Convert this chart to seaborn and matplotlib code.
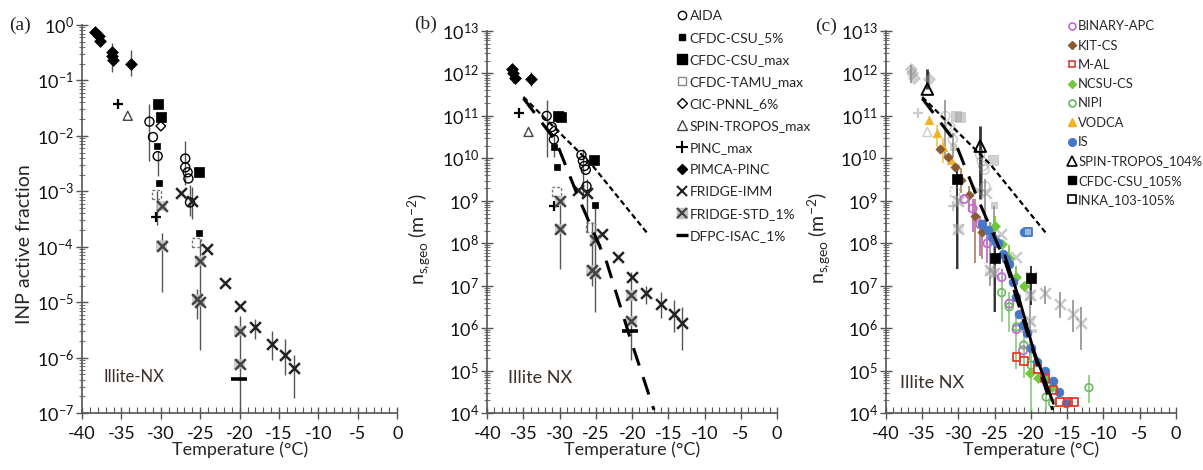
import numpy as np
import seaborn as sns
import matplotlib.pyplot as plt
from matplotlib.lines import Line2D
from matplotlib.ticker import LogLocator, MultipleLocator, LogFormatterSciNotation, NullFormatter

nan = np.nan

# ---------------- panel (a): INP active fraction ----------------
a_aida_t = [-31.45, -31.0, -30.4, -26.9, -26.9, -26.6, -26.5, -26.3]
a_aida_v = [0.018, 0.0095, 0.0043, 0.0039, 0.0027, 0.0022, 0.0017, 0.00063]
a_csu5_t = [-30.5, -30.2, -25.1]
a_csu5_v = [0.0066, 0.0014, 1.8e-4]
a_csumax_t = [-30.4, -30.0, -25.2]
a_csumax_v = [0.037, 0.022, 0.0022]
a_tamu_t = [-30.5, -25.5]
a_tamu_v = [8.9e-4, 1.2e-4]
a_cic_t = [-30.0]
a_cic_v = [0.015]
a_spin_t = [-34.2]
a_spin_v = [0.023]
a_pinc_t = [-35.5, -30.6]
a_pinc_v = [0.037, 3.5e-4]
a_pimca_t = [-38.3, -37.9, -37.7, -36.2, -36.2, -36.1, -33.8]
a_pimca_v = [0.73, 0.62, 0.52, 0.33, 0.27, 0.23, 0.20]
a_fimm_t = [-27.4, -26.1, -24.1, -21.9, -20.0, -18.0, -15.9, -14.2, -13.1]
a_fimm_v = [9.5e-4, 6.7e-4, 9.1e-5, 2.2e-5, 8.5e-6, 3.5e-6, 1.8e-6, 1.1e-6, 6.6e-7]
a_fstd_t = [-29.9, -29.9, -25.0, -25.4, -25.0, -20.0, -20.0]
a_fstd_v = [5.5e-4, 1.05e-4, 5.6e-5, 1.15e-5, 1.0e-5, 3.0e-6, 7.6e-7]
a_dfpc_t = [-20.1]
a_dfpc_v = [4.2e-7]

a_bar_t = [-36.2, -33.8, -31.45, -30.4, -26.9, -26.3, -29.9, -25.0, -25.4, -20.0, -18.0, -15.9, -14.2, -13.1, -26.1, -30.5]
a_bar_lo = [0.14, 0.12, 0.0035, 0.0019, 0.0013, 3.6e-4, 1.5e-5, 1.4e-6, 5e-6, 1e-7, 2.2e-6, 9e-7, 4.8e-7, 1.9e-7, 3.2e-4, 2.5e-4]
a_bar_hi = [0.47, 0.36, 0.038, 0.0054, 0.0081, 0.0013, 1.8e-4, 1.4e-4, 1.7e-5, 5.7e-6, 5e-6, 3e-6, 2.2e-6, 1.1e-6, 1.2e-3, 1e-3]

# ---------------- panel (b): n_s,geo ----------------
b_aida_t = [-31.8, -31.1, -30.8, -27.0, -26.8, -26.6, -26.4, -26.3]
b_aida_v = [1e11, 5.5e10, 2.8e10, 1.2e10, 8.7e9, 6.6e9, 5.4e9, 2.2e9]
b_csu5_t = [-30.8, -30.4, -25.1]
b_csu5_v = [1.9e10, 6.2e9, 7.9e8]
b_csumax_t = [-30.3, -29.8, -25.3]
b_csumax_v = [1e11, 9.3e10, 9.1e9]
b_tamu_t = [-30.5, -25.8]
b_tamu_v = [1.7e9, 2.4e8]
b_cic_t = [-30.8]
b_cic_v = [4.5e10]
b_spin_t = [-34.3]
b_spin_v = [4.2e10]
b_pinc_t = [-35.6, -30.8]
b_pinc_v = [1.2e11, 7.4e8]
b_pimca_t = [-36.6, -36.4, -36.2, -34.0]
b_pimca_v = [1.25e12, 1.0e12, 8e11, 7.4e11]
b_fimm_t = [-27.5, -26.2, -24.2, -22.0, -20.0, -18.1, -16.0, -14.2, -13.1]
b_fimm_v = [1.8e9, 1.5e9, 1.7e8, 4.7e7, 1.6e7, 6.9e6, 3.8e6, 2.2e6, 1.3e6]
b_fstd_t = [-30.0, -30.0, -25.1, -25.6, -25.1, -20.1, -20.1]
b_fstd_v = [1e9, 2.2e8, 1.2e8, 2.3e7, 2e7, 5.9e6, 1.5e6]
b_dfpc_t = [-20.3]
b_dfpc_v = [8.5e5]

b_bar_t = [-36.5, -34.0, -31.8, -30.8, -26.8, -26.3, -30.0, -25.1, -25.6, -20.1, -18.1, -16.0, -14.2, -13.1]
b_bar_lo = [6e11, 5e11, 1.1e10, 1.1e10, 1.3e9, 1.8e8, 2.5e7, 2.4e6, 1e7, 1.8e5, 3.8e6, 1.7e6, 8.1e5, 3e5]
b_bar_hi = [1.6e12, 1.1e12, 2.4e11, 4e10, 1.7e10, 3.2e9, 1.1e9, 7.6e8, 3.1e8, 2.1e7, 1e7, 7e6, 4.6e6, 3.2e6]

fit_long_t = [-35.0, -30.5, -27.5, -23.5, -20.3, -17.0]
fit_long_v = [2.6e11, 2.5e10, 1.3e9, 3.5e7, 6e5, 1.2e4]
fit_short_t = [-35.0, -25.6, -18.0]
fit_short_v = [2.8e11, 7.2e9, 1.8e8]

# ---------------- panel (c): additional instruments ----------------
c_binary_t = [-29.2, -28.05, -27.0, -26.0, -24.05, -23.0, -22.0, -21.1]
c_binary_v = [1.1e9, 6.6e8, 2.8e8, 1e8, 1.6e7, 3.8e6, 9.5e5, 3e5]
c_binary_lo = [nan, 1.8e8, 5e7, 3.5e7, 8e6, nan, nan, nan]
c_binary_hi = [nan, 1.1e9, 4.5e8, 1.8e8, 2.5e7, nan, nan, nan]
c_kit_t = [-32.6, -31.5, -30.5, -29.7, -28.6, -27.7, -26.8]
c_kit_v = [1.7e10, 1.05e10, 6.3e9, 3.1e9, 1.4e9, 4.5e8, 1.8e8]
c_kit_lo = [nan, nan, nan, 1.5e9, 5.4e8, 3.5e7, 4.3e7]
c_kit_hi = [nan, nan, nan, 6e9, 2.2e9, 1.1e9, 3e8]
c_mal_t = [-22.0, -21.0, -19.1, -18.1, -16.9, -16.0, -14.85, -14.1]
c_mal_v = [2.1e5, 1.7e5, 1.1e5, 6.6e4, 3.5e4, 1.8e4, 1.8e4, 1.8e4]
c_ncsu_t = [-25.0, -24.05, -23.0, -22.0, -21.0, -20.1, -19.0, -17.9, -17.05]
c_ncsu_v = [2.5e8, 9.6e7, 4.5e7, 1.6e7, 9.8e6, 8.7e4, 6.9e4, 6e4, 4.2e4]
c_ncsu_lo = [1.3e8, nan, 2.5e7, 8.5e6, nan, nan, nan, nan, nan]
c_ncsu_hi = [4.5e8, nan, 9e7, 3e7, nan, nan, nan, nan, nan]
c_nipi_t = [-24.05, -23.0, -22.0, -21.0, -20.0, -17.9, -17.0, -12.0]
c_nipi_v = [6.9e6, 3.2e6, 1.07e6, 4e5, 1.35e5, 2.4e4, 1.7e4, 4e4]
c_nipi_lo = [1.4e6, 8e5, 1.1e5, 6.6e4, 1.1e4, 1.1e4, nan, 1.7e4]
c_nipi_hi = [2.1e7, 7e6, 2.4e6, 9.8e5, 3.3e5, 4.6e4, nan, 7.9e4]
c_vodca_t = [-34.0, -33.0, -32.1, -31.1]
c_vodca_v = [8.1e10, 3.9e10, 1.9e10, 9.1e9]
c_vodca_lo = [nan, 1.9e10, 8e9, nan]
c_vodca_hi = [nan, 6e10, 3e10, nan]
c_is_t = [-26.7, -25.9, -25.4, -24.8, -24.5, -23.9, -23.45, -23.0, -22.5, -22.1, -21.65,
          -21.15, -20.5, -20.0, -19.1, -18.1, -17.0, -16.1, -15.1, -21.0]
c_is_v = [2.8e8, 2.1e8, 1.4e8, 1.1e8, 1e8, 5.6e7, 4.3e7, 3.3e7, 1.2e7, 5.4e6, 2.2e6,
          1.2e6, 7.9e5, 3.5e5, 1.6e5, 9.8e4, 5.8e4, 3.2e4, 1.7e4, 1.8e8]
c_spin_t = [-34.3, -27.0]
c_spin_v = [4.3e11, 1.95e10]
c_spin_lo = [4.3e11, 1.1e9]
c_spin_hi = [1.3e12, 5.8e10]
c_csu_t = [-30.2, -25.0, -20.0]
c_csu_v = [3.3e9, 4.5e7, 1.5e7]
c_csu_lo = [2.5e7, 2.4e6, 3.5e6]
c_csu_hi = [6.6e9, 1.8e8, 3e7]
c_inka_t = [-20.4]
c_inka_v = [1.8e8]
c_fit_t = [-23.6, -21.5, -19.7, -16.9]
c_fit_v = [5.1e7, 4.2e6, 3.3e5, 1.7e4]

temp_ticks = [-40, -35, -30, -25, -20, -15, -10, -5, 0]

# ---------------- styles ----------------
# name -> (marker, size, face, edge, linewidth, linestyle)
STY = {
    'AIDA': ('o', 42, 'none', 'k', 1.0, 'solid'),
    'CFDC-CSU_5%': ('s', 22, 'k', 'k', 0.5, 'solid'),
    'CFDC-CSU_max': ('s', 60, 'k', 'k', 0.5, 'solid'),
    'CFDC-TAMU_max': ('s', 42, 'none', '#777777', 1.0, (0, (2, 1.5))),
    'CIC-PNNL_6%': ('D', 24, 'none', 'k', 1.0, 'solid'),
    'SPIN-TROPOS_max': ('^', 42, 'none', '#444444', 1.0, 'solid'),
    'PINC_max': ('+', 60, None, 'k', 1.6, 'solid'),
    'PIMCA-PINC': ('D', 36, 'k', 'k', 0.5, 'solid'),
    'FRIDGE-IMM': ('x', 60, None, '#222222', 1.8, 'solid'),
    'FRIDGE-STD_1%': ('x', 60, None, '#444444', 1.8, 'solid'),
    'DFPC-ISAC_1%': ('_', 120, None, 'k', 2.6, 'solid'),
}


def dots(ax, t, v, name, gray=False, z=4):
    m, s, face, edge, lw, ls = STY[name]
    alpha = 0.45 if gray else 1.0
    if gray:
        edge = '#8a8a8a'
        face = face if face in (None, 'none') else '#9a9a9a'
    if name == 'FRIDGE-STD_1%':
        sns.scatterplot(x=t, y=v, ax=ax, marker='s', s=55, color='#c4c4c4',
                        edgecolor='none', alpha=0.8 * alpha, zorder=z, legend=False)
    if face is None:
        sns.scatterplot(x=t, y=v, ax=ax, marker=m, s=s, color=edge, linewidth=lw,
                        alpha=alpha, zorder=z, legend=False)
    else:
        sns.scatterplot(x=t, y=v, ax=ax, marker=m, s=s, color=edge, facecolors=face,
                        edgecolors=edge, linewidth=lw, linestyle=ls, alpha=alpha,
                        zorder=z, legend=False)


def bars(ax, t, lo, hi, color='#555555', lw=1.0, z=2, alpha=1.0):
    t, lo, hi = np.asarray(t), np.asarray(lo, float), np.asarray(hi, float)
    ok = ~np.isnan(lo)
    ax.vlines(t[ok], lo[ok], hi[ok], colors=color, lw=lw, zorder=z, alpha=alpha)


def cdots(ax, t, v, marker, s, face, edge, lw=1.0, z=5):
    sns.scatterplot(x=t, y=v, ax=ax, marker=marker, s=s, color=edge, facecolors=face,
                    edgecolors=edge, linewidth=lw, zorder=z, legend=False)


def style_axes(ax, ylo, yhi, ylabel, label_xy):
    ax.set_yscale('log')
    ax.set_xlim(-40, 0)
    ax.set_ylim(ylo, yhi)
    ax.set_xticks(temp_ticks)
    ax.set_xticklabels([str(t) for t in temp_ticks])
    ax.xaxis.set_minor_locator(MultipleLocator(1))
    ax.yaxis.set_major_locator(LogLocator(base=10, numticks=20))
    ax.yaxis.set_major_formatter(LogFormatterSciNotation())
    ax.yaxis.set_minor_locator(LogLocator(base=10, subs=np.arange(2, 10), numticks=100))
    ax.yaxis.set_minor_formatter(NullFormatter())
    ax.tick_params(axis='both', which='major', direction='inout', length=8, width=1,
                   color='#555555', labelsize=13, labelcolor='#111111')
    ax.tick_params(axis='y', which='minor', direction='inout', length=4, width=0.8, color='#777777')
    ax.tick_params(axis='x', which='minor', direction='in', length=4, width=0.8, color='#555555')
    ax.tick_params(axis='x', which='major', pad=5)
    ax.tick_params(axis='y', which='major', pad=2)
    for sp in ('left', 'bottom'):
        ax.spines[sp].set_color('#555555')
        ax.spines[sp].set_linewidth(1.2)
    sns.despine(ax=ax)
    ax.set_xlabel('Temperature (°C)', fontsize=13, labelpad=0)
    ax.set_ylabel(ylabel, fontsize=14)
    ax.yaxis.set_label_coords(*label_xy)


sns.set_style('ticks')
plt.rcParams['font.family'] = ['Lato', 'DejaVu Sans']
plt.rcParams['axes.unicode_minus'] = False

fig = plt.figure(figsize=(12.03, 4.70), dpi=100)
ax_a = fig.add_axes([0.0682, 0.121, 0.262, 0.826])
ax_b = fig.add_axes([0.405, 0.121, 0.241, 0.813])
ax_c = fig.add_axes([0.7365, 0.121, 0.241, 0.813])

# ---- (a)
style_axes(ax_a, 1e-7, 1.0, 'INP active fraction', (-0.156, 0.436))
bars(ax_a, a_bar_t, a_bar_lo, a_bar_hi)
dots(ax_a, a_pimca_t, a_pimca_v, 'PIMCA-PINC')
dots(ax_a, a_pinc_t, a_pinc_v, 'PINC_max')
dots(ax_a, a_spin_t, a_spin_v, 'SPIN-TROPOS_max')
dots(ax_a, a_aida_t, a_aida_v, 'AIDA')
dots(ax_a, a_csumax_t, a_csumax_v, 'CFDC-CSU_max')
dots(ax_a, a_csu5_t, a_csu5_v, 'CFDC-CSU_5%')
dots(ax_a, a_tamu_t, a_tamu_v, 'CFDC-TAMU_max')
dots(ax_a, a_cic_t, a_cic_v, 'CIC-PNNL_6%')
dots(ax_a, a_fimm_t, a_fimm_v, 'FRIDGE-IMM')
dots(ax_a, a_fstd_t, a_fstd_v, 'FRIDGE-STD_1%')
dots(ax_a, a_dfpc_t, a_dfpc_v, 'DFPC-ISAC_1%')
ax_a.text(-37.3, 10 ** -6.34, 'Illite-NX', fontsize=12, color='#3b2f2a', va='center')

# ---- (b)
nsg = r'n$_{\mathdefault{s{,}geo}}$ (m$^{\mathdefault{-2}}$)'
style_axes(ax_b, 1e4, 1e13, nsg, (-0.186, 0.456))
b_series = [(b_aida_t, b_aida_v, 'AIDA'), (b_csu5_t, b_csu5_v, 'CFDC-CSU_5%'),
            (b_csumax_t, b_csumax_v, 'CFDC-CSU_max'), (b_tamu_t, b_tamu_v, 'CFDC-TAMU_max'),
            (b_cic_t, b_cic_v, 'CIC-PNNL_6%'), (b_spin_t, b_spin_v, 'SPIN-TROPOS_max'),
            (b_pinc_t, b_pinc_v, 'PINC_max'), (b_pimca_t, b_pimca_v, 'PIMCA-PINC'),
            (b_fimm_t, b_fimm_v, 'FRIDGE-IMM'), (b_fstd_t, b_fstd_v, 'FRIDGE-STD_1%'),
            (b_dfpc_t, b_dfpc_v, 'DFPC-ISAC_1%')]
bars(ax_b, b_bar_t, b_bar_lo, b_bar_hi)
for t, v, name in b_series:
    dots(ax_b, t, v, name)
for ax in (ax_b, ax_c):
    sns.lineplot(x=fit_long_t, y=fit_long_v, ax=ax, color='k', lw=2.2,
                 linestyle=(0, (6, 4)), zorder=6)
    sns.lineplot(x=fit_short_t, y=fit_short_v, ax=ax, color='k', lw=1.6,
                 linestyle=(0, (2.5, 1.5)), zorder=6)
ax_b.text(-37.2, 10 ** 4.82, 'Illite NX', fontsize=13, color='#3b2f2a', va='center')

# ---- (c)
style_axes(ax_c, 1e4, 1e13, nsg, (-0.183, 0.458))
bars(ax_c, b_bar_t, b_bar_lo, b_bar_hi, color='#777777', lw=1.4, alpha=0.7)
for t, v, name in b_series:
    dots(ax_c, t, v, name, gray=True, z=3)
col_binary, col_kit, col_mal = '#c368d6', '#8a5a2e', '#e33a2e'
col_ncsu, col_nipi, col_vodca, col_is = '#72c83a', '#6ab860', '#f0b222', '#4577c6'
bars(ax_c, c_binary_t, c_binary_lo, c_binary_hi, color=col_binary, lw=1.3)
bars(ax_c, c_kit_t, c_kit_lo, c_kit_hi, color='#b08a66', lw=1.3)
bars(ax_c, c_ncsu_t, c_ncsu_lo, c_ncsu_hi, color=col_ncsu, lw=1.3)
bars(ax_c, c_nipi_t, c_nipi_lo, c_nipi_hi, color='#8fcf85', lw=1.3)
bars(ax_c, c_vodca_t, c_vodca_lo, c_vodca_hi, color='#f5c85a', lw=1.3)
bars(ax_c, c_spin_t, c_spin_lo, c_spin_hi, color='#333333', lw=2.0)
bars(ax_c, c_csu_t, c_csu_lo, c_csu_hi, color='#333333', lw=1.4)
sns.lineplot(x=c_fit_t, y=c_fit_v, ax=ax_c, color='k', lw=2.0, zorder=6)
cdots(ax_c, c_vodca_t, c_vodca_v, '^', 38, col_vodca, col_vodca, 0.5)
cdots(ax_c, c_kit_t, c_kit_v, 'D', 22, col_kit, col_kit, 0.5)
cdots(ax_c, c_binary_t, c_binary_v, 'o', 34, 'none', col_binary, 1.3)
cdots(ax_c, c_nipi_t, c_nipi_v, 'o', 30, 'none', col_nipi, 1.2)
cdots(ax_c, c_ncsu_t, c_ncsu_v, 'D', 26, col_ncsu, col_ncsu, 0.5)
cdots(ax_c, c_is_t, c_is_v, 'o', 40, col_is, col_is, 0.5)
cdots(ax_c, c_mal_t, c_mal_v, 's', 32, 'none', col_mal, 1.3)
cdots(ax_c, c_inka_t, c_inka_v, 's', 40, '#9db8e0', col_is, 1.3)
cdots(ax_c, c_spin_t, c_spin_v, '^', 70, 'none', 'k', 1.4, z=7)
cdots(ax_c, c_csu_t, c_csu_v, 's', 45, 'k', 'k', 0.5, z=7)
ax_c.text(-38.1, 10 ** 4.7, 'Illite NX', fontsize=13, color='#3b2f2a', va='center')

# ---- panel tags
tag_font = ['Liberation Serif', 'DejaVu Serif']
fig.text(0.0166, 0.947, '(a)', fontsize=14, va='center', ha='center', family=tag_font)
fig.text(0.354, 0.949, '(b)', fontsize=14, va='center', ha='center', family=tag_font)
fig.text(0.6866, 0.943, '(c)', fontsize=14, va='center', ha='center', family=tag_font)


# ---- legends
def h(marker, ms, face, edge, mew=1.0, ls='None'):
    return Line2D([], [], marker=marker, markersize=ms, markerfacecolor=face,
                  markeredgecolor=edge, markeredgewidth=mew, linestyle=ls, color=edge)


b_handles = [h('o', 6, 'none', 'k'), h('s', 4.5, 'k', 'k'), h('s', 7, 'k', 'k'),
             h('s', 6, 'none', '#888888'), h('D', 5, 'none', 'k'), h('^', 6.5, 'none', '#444444'),
             h('+', 8, 'k', 'k', 1.5), h('D', 5.5, 'k', 'k'), h('x', 7, 'k', '#222222', 1.5),
             (h('s', 7, '#c4c4c4', '#c4c4c4'), h('x', 7, '#444444', '#444444', 1.6)),
             h('_', 9, 'k', 'k', 2.4)]
b_labels = [n for _, _, n in b_series]
fig.legend(b_handles, b_labels, loc='upper left', bbox_to_anchor=(0.5628, 0.979),
           frameon=False, fontsize=10, handlelength=0.7, handletextpad=0.2,
           labelspacing=0.72, borderpad=0, borderaxespad=0)

c_handles = [h('o', 5, 'none', col_binary, 1.2), h('D', 4, col_kit, col_kit),
             h('s', 5, 'none', col_mal, 1.2), h('D', 4.5, col_ncsu, col_ncsu),
             h('o', 5, 'none', col_nipi, 1.2), h('^', 5.5, col_vodca, col_vodca),
             h('o', 5.5, col_is, col_is), h('^', 6.5, 'none', 'k', 1.2),
             h('s', 5.5, 'k', 'k'), h('s', 5.5, 'none', 'k', 1.2)]
c_labels = ['BINARY-APC', 'KIT-CS', 'M-AL', 'NCSU-CS', 'NIPI', 'VODCA', 'IS',
            'SPIN-TROPOS_104%', 'CFDC-CSU_105%', 'INKA_103-105%']
fig.legend(c_handles, c_labels, loc='upper left', bbox_to_anchor=(0.887, 0.957),
           frameon=False, fontsize=9.4, handlelength=0.7, handletextpad=0.15,
           labelspacing=0.56, borderpad=0, borderaxespad=0)

fig.savefig('out.png', dpi=100)
